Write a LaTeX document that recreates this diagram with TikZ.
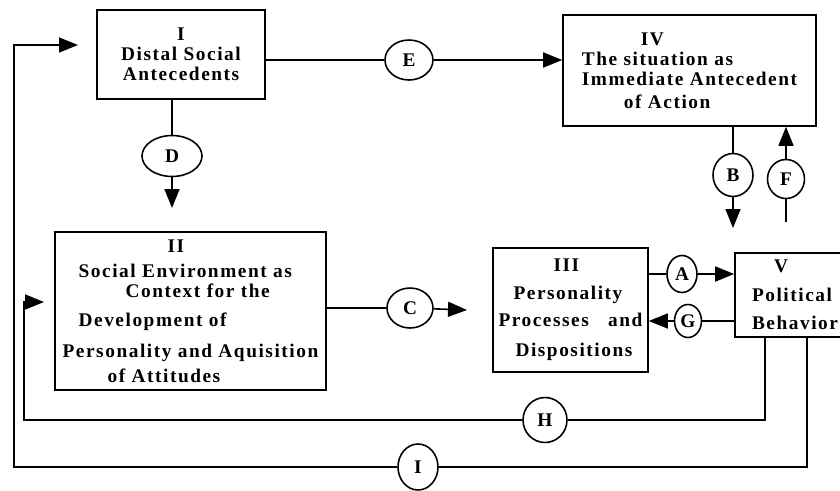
\documentclass[tikz,border=0pt]{standalone}
\usepackage{fontspec}
\setmainfont{Liberation Serif}[LetterSpace=8]
\usetikzlibrary{arrows.meta,shapes.geometric}
\begin{document}
\begin{tikzpicture}[x=0.02cm,y=-0.02cm,
    box/.style={draw,line width=0.9pt,align=left,inner sep=0pt,
      font=\fontsize{11}{11.5}\selectfont\bfseries},
    tag/.style={draw,ellipse,line width=0.9pt,inner sep=0pt,
      font=\fontsize{11}{12}\selectfont\bfseries},
    conn/.style={line width=0.9pt},
    arr/.style={line width=0.9pt,-{Triangle[length=0.38cm,width=0.3cm]}}]
        \useasboundingbox (0,0) rectangle (840,491);
        \node[box,align=center,minimum width=3.36cm,minimum height=1.78cm] (b1) at (181,54.5)
           {I\\Distal Social\\Antecedents};
        \node[box,minimum width=5.42cm,minimum height=3.16cm] (b2) at (190.5,311)
           {\hspace*{2.1cm}II\\[0.1cm]\hspace*{0.32cm}Social Environment as\\
            \hspace*{1.26cm}Context for the\\[0.18cm]\hspace*{0.32cm}Development of\\[0.2cm]
            Personality and Aquisition\\[0.1cm]\hspace*{0.9cm}of Attitudes};
        \node[box,minimum width=3.1cm,minimum height=2.48cm] (b3) at (570.5,310)
           {\hspace*{1.1cm}III\\[0.14cm]\hspace*{0.3cm}Personality\\[0.14cm]
            Processes\quad and\\[0.2cm]\hspace*{0.34cm}Dispositions};
        \node[box,minimum width=5.06cm,minimum height=2.22cm] (b4) at (689.5,70.5)
           {\hspace*{1.18cm}IV\\The situation as\\Immediate Antecedent\\[0.04cm]
            \hspace*{0.84cm}of Action};
        \node[box,minimum width=2.4cm,minimum height=1.68cm] (b5) at (795,295)
           {\hspace*{0.44cm}V\\[0.18cm]Political\\[0.16cm]Behavior};
        \node[tag,minimum width=0.96cm,minimum height=0.8cm] (cE) at (409,60) {E};
        \node[tag,minimum width=1.2cm,minimum height=0.82cm] (cD) at (172,156) {D};
        \node[tag,minimum width=0.92cm,minimum height=0.8cm] (cC) at (410,308) {C};
        \node[tag,minimum width=0.6cm,minimum height=0.74cm] (cA) at (682,274) {A};
        \node[tag,minimum width=0.54cm,minimum height=0.66cm] (cG) at (688,321) {G};
        \node[tag,minimum width=0.8cm,minimum height=0.86cm] (cB) at (733,175) {B};
        \node[tag,minimum width=0.74cm,minimum height=0.78cm] (cF) at (786,179) {F};
        \node[tag,minimum width=0.88cm,minimum height=0.9cm] (cH) at (545,420) {H};
        \node[tag,minimum width=0.8cm,minimum height=0.92cm] (cI) at (418,467) {I};
        \coordinate (dEnd) at (172,208);
        \coordinate (cEnd) at (467,310);
        \coordinate (bEnd) at (733,228);
        \coordinate (fStart) at (786,222);
        \coordinate (hR) at (765,420);
        \coordinate (hL) at (24,420);
        \coordinate (hEnd) at (44,302);
        \coordinate (iR) at (807,467);
        \coordinate (iL) at (14,467);
        \coordinate (iEnd) at (78,45);
        \draw[conn] (b1.east |- cE) -- (cE);
        \draw[arr] (cE) -- (b4.west |- cE);
        \draw[conn] (b1.south -| cD) -- (cD);
        \draw[arr] (cD) -- (dEnd);
        \draw[conn] (b2.east |- cC) -- (cC);
        \draw[arr] (cC) -- (cEnd);
        \draw[conn] (b3.east |- cA) -- (cA);
        \draw[arr] (cA) -- (b5.west |- cA);
        \draw[conn] (b5.west |- cG) -- (cG);
        \draw[arr] (cG) -- (b3.east |- cG);
        \draw[conn] (b4.south -| cB) -- (cB);
        \draw[arr] (cB) -- (bEnd);
        \draw[conn] (fStart) -- (cF);
        \draw[arr] (cF) -- (b4.south -| cF);
        \draw[conn] (b5.south -| hR) -- (hR) -- (cH);
        \draw[arr] (cH) -- (hL) |- (hEnd);
        \draw[conn] (b5.south -| iR) -- (iR) -- (cI);
        \draw[arr] (cI) -- (iL) |- (iEnd);
\end{tikzpicture}
\end{document}
